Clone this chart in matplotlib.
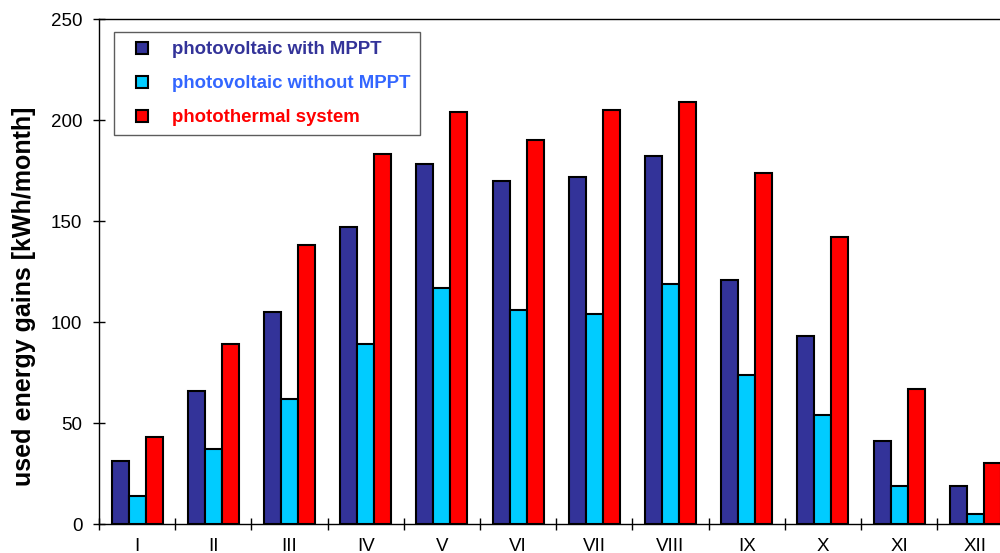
import numpy as np
import matplotlib
matplotlib.use('Agg')
import matplotlib.pyplot as plt
from matplotlib.lines import Line2D

plt.rcParams['font.family'] = ['Liberation Sans', 'DejaVu Sans']

months = ['I', 'II', 'III', 'IV', 'V', 'VI', 'VII', 'VIII', 'IX', 'X', 'XI', 'XII']
pv_mppt = [31, 66, 105, 147, 178, 170, 172, 182, 121, 93, 41, 19]
pv_no_mppt = [14, 37, 62, 89, 117, 106, 104, 119, 74, 54, 19, 5]
thermal = [43, 89, 138, 183, 204, 190, 205, 209, 174, 142, 67, 30]

labels = ['photovoltaic with MPPT', 'photovoltaic without MPPT', 'photothermal system']
colors = ['#333399', '#00CCFF', '#FF0000']
text_colors = ['#333399', '#3366FF', '#FF0000']

fig = plt.figure(figsize=(10, 5.53), dpi=100)
# axes run a bit past the right edge, like the cropped original
ax = fig.add_axes([0.099, 0.0524, 0.9144, 0.9132])

x = np.arange(len(months))
w = 0.223
for i, vals in enumerate([pv_mppt, pv_no_mppt, thermal]):
    ax.bar(x + (i - 1) * w, vals, width=w, color=colors[i], edgecolor='black', linewidth=1.5, zorder=2)

ax.set_xlim(-0.5, len(months) - 0.5)
ax.set_ylim(0, 250)
ax.set_yticks(np.arange(0, 251, 50))
ax.set_xticks(x)
ax.set_xticklabels(months)
ax.set_xticks(np.arange(-0.5, len(months), 1), minor=True)
ax.tick_params(axis='x', which='major', length=0, labelsize=13.5, pad=10)
ax.tick_params(axis='x', which='minor', direction='inout', length=8, width=1)
ax.tick_params(axis='y', direction='inout', length=8, width=1, labelsize=13.5, pad=8)
ax.set_ylabel('used energy gains [kWh/month]', fontsize=18, fontweight='bold')
ax.yaxis.set_label_coords(-0.069, 0.451)

for s in ax.spines.values():
    s.set_linewidth(1)

handles = [Line2D([0], [0], marker='s', linestyle='none', markersize=8,
                  markerfacecolor=c, markeredgecolor='black', markeredgewidth=1.5)
           for c in colors]
leg = ax.legend(handles, labels, loc='upper left', bbox_to_anchor=(0.0165, 0.974),
                fontsize=13.4, frameon=True, fancybox=False, borderpad=0.5,
                labelspacing=0.9, handlelength=2.0, handletextpad=0.6, borderaxespad=0)
leg.get_frame().set_edgecolor('#333333')
leg.get_frame().set_linewidth(1)
for t, c in zip(leg.get_texts(), text_colors):
    t.set_color(c)
    t.set_fontweight('bold')

plt.savefig('out.png', dpi=100)
